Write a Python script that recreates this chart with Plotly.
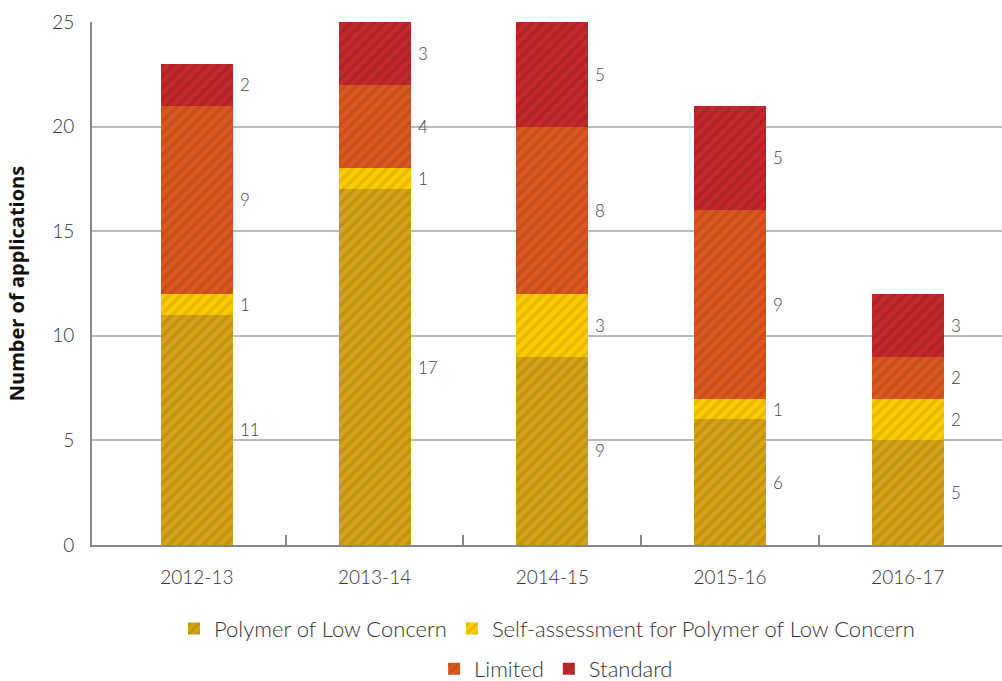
import plotly.graph_objects as go

years = ["2012-13", "2013-14", "2014-15", "2015-16", "2016-17"]
plc = [11, 17, 9, 6, 5]
self_assessment = [1, 1, 3, 1, 2]
limited = [9, 4, 8, 9, 2]
standard = [2, 3, 5, 5, 3]

series = [
    ("Polymer of Low Concern", plc, "#D6A318", "#B88C10", "legend"),
    ("Self-assessment for Polymer of Low Concern", self_assessment, "#FFCC00", "#DDB000", "legend"),
    ("Limited", limited, "#DA5820", "#BE4A19", "legend2"),
    ("Standard", standard, "#C4282B", "#A82024", "legend2"),
]

FONT = "Lato"
BAR_W = 0.405
xs = list(range(len(years)))

fig = go.Figure()
annotations = []
base = [0] * len(years)
for name, vals, col, dark, leg in series:
    fig.add_trace(go.Bar(
        x=xs, y=vals, name=name, width=BAR_W, legend=leg,
        marker=dict(color=col, line=dict(width=0),
                    pattern=dict(shape="/", fgcolor=dark, bgcolor=col,
                                 size=8, solidity=0.45, fgopacity=0.7)),
        hoverinfo="skip",
    ))
    for i, v in enumerate(vals):
        annotations.append(dict(
            x=i + BAR_W / 2, y=base[i] + v / 2, xref="x", yref="y",
            text=str(v), showarrow=False, xanchor="left", yanchor="middle",
            xshift=5, font=dict(family=FONT, size=17, color="#444", weight=300),
        ))
        base[i] += v

fig.update_layout(
    width=1002, height=681,
    margin=dict(l=92, r=0, t=22, b=136, autoexpand=False),
    barmode="stack",
    plot_bgcolor="white", paper_bgcolor="white",
    font=dict(family=FONT, color="#333", size=19),
    annotations=annotations,
    legend=dict(orientation="h", x=0.5, xanchor="center", y=-0.16, yanchor="middle",
                font=dict(family=FONT, size=22, color="#333", weight=300),
                itemsizing="constant", traceorder="normal"),
    legend2=dict(orientation="h", x=0.51, xanchor="center", y=-0.237, yanchor="middle",
                 font=dict(family=FONT, size=22, color="#333", weight=300),
                 itemsizing="constant", traceorder="normal"),
)

fig.update_xaxes(
    range=[-0.59, 4.53],
    tickvals=xs, ticktext=years, ticks="", ticklabelstandoff=14,
    tickfont=dict(family=FONT, size=19, color="#333", weight=300),
    showline=True, linecolor="#888", linewidth=2,
    showgrid=False, zeroline=False, automargin=False,
    minor=dict(tickvals=[0.5, 1.5, 2.5, 3.5], ticks="inside", ticklen=10,
               tickcolor="#888", tickwidth=2, showgrid=False),
)

fig.update_yaxes(
    range=[0, 25], dtick=5,
    tickfont=dict(family=FONT, size=19, color="#333", weight=300),
    showline=True, linecolor="#888", linewidth=2,
    showgrid=True, gridcolor="#BBBBBB", gridwidth=1.5,
    zeroline=False, ticks="", ticklabelstandoff=12, automargin=False,
    title=dict(text="<b>Number of applications</b>", standoff=22,
               font=dict(family="Open Sans", size=20, color="#111")),
)

fig.write_html("out.html")
